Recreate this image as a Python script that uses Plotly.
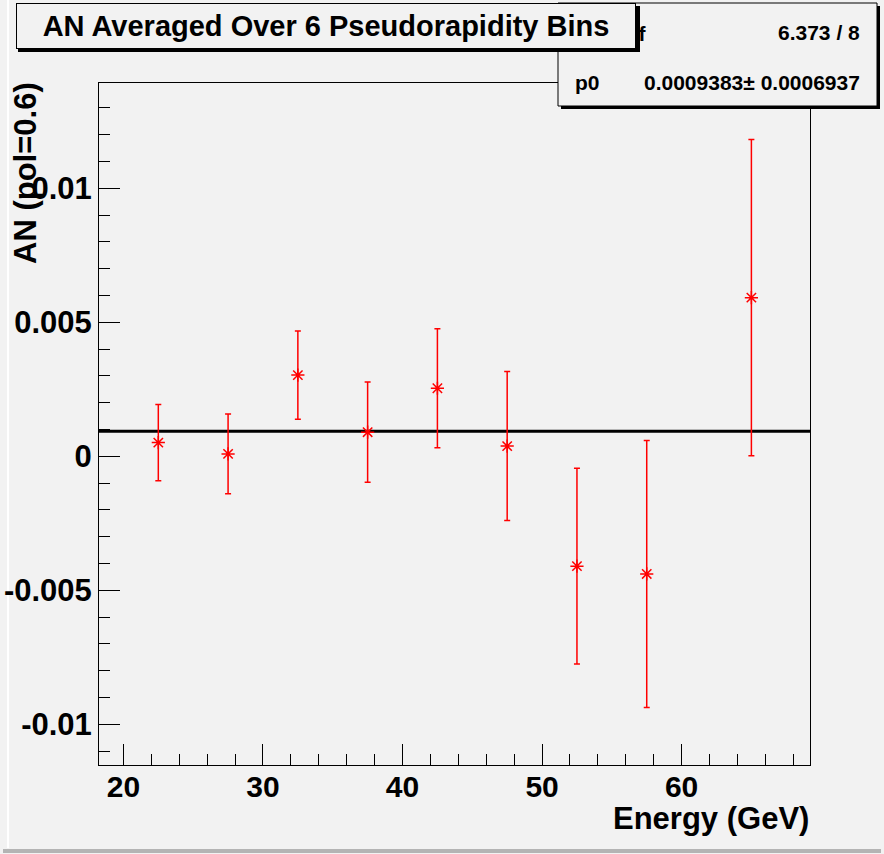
import plotly.graph_objects as go

# ---- data ----
energy = [22.5, 27.5, 32.5, 37.5, 42.5, 47.5, 52.5, 57.5, 65.0]
an_value = [0.00051, 0.00009, 0.00303, 0.00090, 0.00254, 0.00038, -0.00410, -0.00439, 0.00592]
an_error = [0.00142, 0.00149, 0.00165, 0.00187, 0.00222, 0.00278, 0.00365, 0.00498, 0.00590]

fit_p0 = 0.0009383
fit_p0_err = 0.0006937
fit_chi2 = 6.373
fit_ndf = 8

x_range = [18.25, 69.2]
y_range = [-0.01152, 0.01393]
y_tick_vals = [-0.01, -0.005, 0, 0.005, 0.01]
y_tick_text = ["-0.01", "-0.005", "0", "0.005", "0.01"]
x_tick_vals = [20, 30, 40, 50, 60]
x_tick_text = ["20", "30", "40", "50", "60"]

title_text = "AN Averaged Over 6 Pseudorapidity Bins"
x_title = "Energy (GeV)"
y_title = "AN (pol=0.6)"

# ---- layout geometry ----
W, H = 884, 854
ML, MR, MT, MB = 99, 74, 83, 89
PW, PH = W - ML - MR, H - MT - MB
BG = "#f2f2f2"
FONT = "Liberation Sans, Arial, Helvetica, sans-serif"


def px(x):
    return (x - ML) / PW


def py(y):
    return (H - MB - y) / PH


fig = go.Figure()

# fit line
fig.add_trace(go.Scatter(
    x=x_range, y=[fit_p0, fit_p0], mode="lines",
    line=dict(color="black", width=3), hoverinfo="skip", showlegend=False,
))

# data points
fig.add_trace(go.Scatter(
    x=energy, y=an_value, mode="markers",
    marker=dict(symbol="asterisk-open", size=11, color="red",
                line=dict(color="red", width=1.5)),
    error_y=dict(type="data", array=an_error, visible=True,
                 color="red", thickness=1.5, width=3),
    showlegend=False,
))

shapes = []
# canvas bevel
shapes.append(dict(type="line", xref="paper", yref="paper",
                   x0=px(8), x1=px(8), y0=py(0), y1=py(848),
                   line=dict(color="white", width=2), layer="below"))
shapes.append(dict(type="rect", xref="paper", yref="paper",
                   x0=px(3), x1=px(881), y0=py(849), y1=py(853),
                   fillcolor="#b4b4b4", line=dict(width=0), layer="above"))
# stats box shadow + box
shapes.append(dict(type="rect", xref="paper", yref="paper",
                   x0=px(561), x1=px(880), y0=py(6), y1=py(109),
                   fillcolor="black", line=dict(width=0), layer="above"))
shapes.append(dict(type="rect", xref="paper", yref="paper",
                   x0=px(558), x1=px(877), y0=py(3), y1=py(106),
                   fillcolor=BG, line=dict(color="black", width=1), layer="above"))
# title box shadow
shapes.append(dict(type="rect", xref="paper", yref="paper",
                   x0=px(18), x1=px(640), y0=py(6), y1=py(52),
                   fillcolor="black", line=dict(width=0), layer="above"))

annotations = []
# stats box text
annotations.append(dict(xref="paper", yref="paper", x=px(573), y=py(32),
                        xanchor="left", yanchor="middle", showarrow=False,
                        text="χ<sup>2</sup> / ndf",
                        font=dict(family=FONT, size=21, weight="bold", color="black")))
annotations.append(dict(xref="paper", yref="paper", x=px(862), y=py(32),
                        xanchor="right", yanchor="middle", showarrow=False,
                        text=f"{fit_chi2} / {fit_ndf}",
                        font=dict(family=FONT, size=21, weight="bold", color="black")))
annotations.append(dict(xref="paper", yref="paper", x=px(573), y=py(82),
                        xanchor="left", yanchor="middle", showarrow=False,
                        text="p0",
                        font=dict(family=FONT, size=21, weight="bold", color="black")))
annotations.append(dict(xref="paper", yref="paper", x=px(862), y=py(82),
                        xanchor="right", yanchor="middle", showarrow=False,
                        text=f"{fit_p0}± {fit_p0_err}",
                        font=dict(family=FONT, size=21, weight="bold", color="black")))
# title box
annotations.append(dict(xref="paper", yref="paper", x=px(326), y=py(26),
                        xanchor="center", yanchor="middle", showarrow=False,
                        text=title_text, width=618, height=44,
                        bgcolor=BG, bordercolor="black", borderwidth=1, borderpad=0,
                        font=dict(family=FONT, size=29, weight="bold", color="black")))
# axis titles
annotations.append(dict(xref="paper", yref="paper", x=px(811), y=py(818),
                        xanchor="right", yanchor="middle", showarrow=False,
                        text=x_title,
                        font=dict(family=FONT, size=31, weight="bold", color="black")))
annotations.append(dict(xref="paper", yref="paper", x=px(25), y=py(173),
                        xanchor="center", yanchor="middle", showarrow=False,
                        text=y_title, textangle=-90,
                        font=dict(family=FONT, size=31, weight="bold", color="black")))

fig.update_layout(
    width=W, height=H, autosize=False,
    margin=dict(l=ML, r=MR, t=MT, b=MB, pad=0),
    paper_bgcolor=BG, plot_bgcolor=BG,
    shapes=shapes, annotations=annotations,
    showlegend=False, hovermode=False,
)

fig.update_xaxes(
    range=x_range, tickmode="array", tickvals=x_tick_vals, ticktext=x_tick_text,
    ticks="inside", ticklen=21, tickwidth=1, tickcolor="black",
    minor=dict(tickmode="linear", tick0=0, dtick=2, ticks="inside", ticklen=11,
               tickcolor="black", tickwidth=1, showgrid=False),
    showline=True, linecolor="black", linewidth=1, mirror=True,
    showgrid=False, zeroline=False, ticklabelstandoff=-5, automargin=False,
    tickfont=dict(family=FONT, size=30, weight="bold", color="black"),
)
fig.update_yaxes(
    range=y_range, tickmode="array", tickvals=y_tick_vals, ticktext=y_tick_text,
    ticks="inside", ticklen=21, tickwidth=1, tickcolor="black",
    minor=dict(tickmode="linear", tick0=0, dtick=0.001, ticks="inside", ticklen=11,
               tickcolor="black", tickwidth=1, showgrid=False),
    showline=True, linecolor="black", linewidth=1, mirror=True,
    showgrid=False, zeroline=False, automargin=False,
    tickfont=dict(family=FONT, size=31, weight="bold", color="black"),
)

fig.write_html("out.html", config={"displayModeBar": False},
               post_script="document.body.style.margin='0';document.body.style.overflow='hidden';")
